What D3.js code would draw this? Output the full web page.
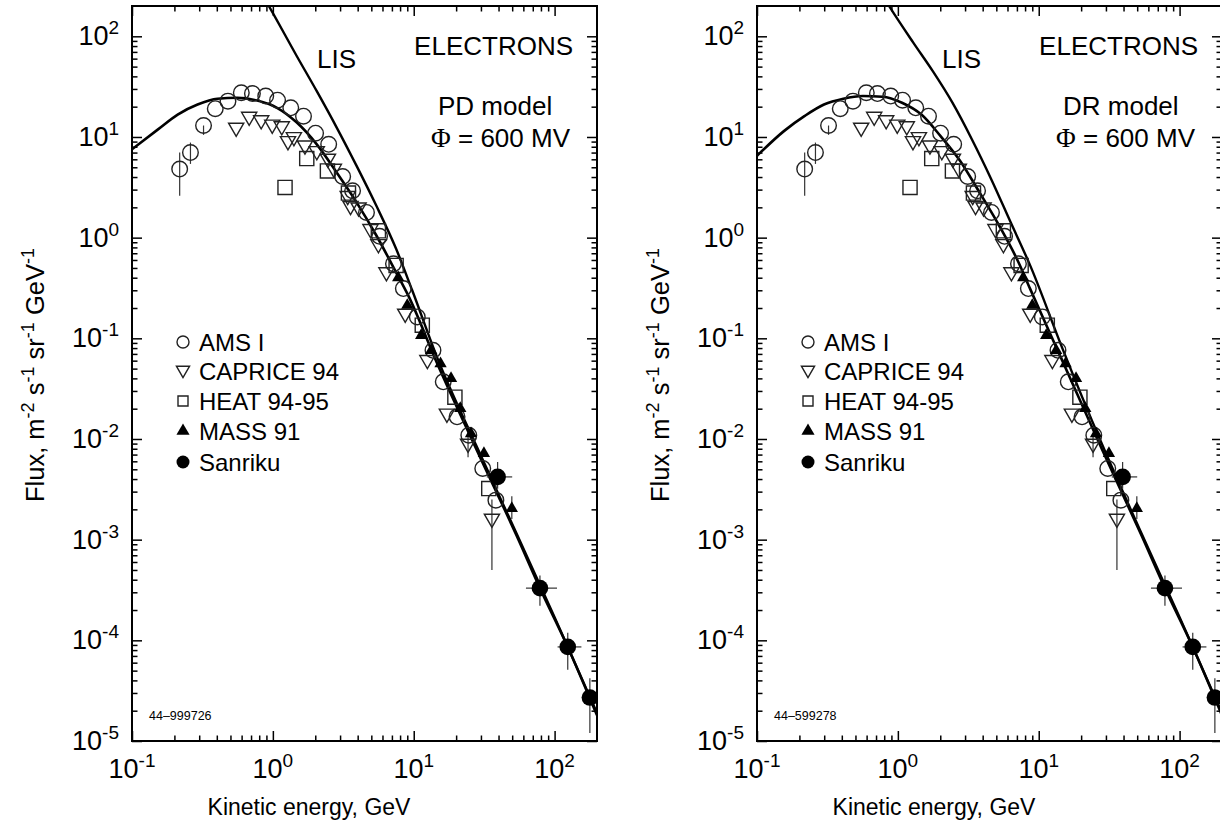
<!DOCTYPE html>
<html><head><meta charset="utf-8">
<script src="https://cdn.jsdelivr.net/npm/d3@7"></script>
<style>
html,body{margin:0;padding:0;background:#fff;}
svg{display:block;}
text{font-family:"Liberation Sans",Arial,Helvetica,sans-serif;fill:#000;}
</style></head><body>
<svg id="chart" width="1220" height="825"></svg>
<script>
// ---------- data (GeV, m^-2 s^-1 sr^-1 GeV^-1) ----------
const xDomain = [0.1, 200];
const yDomain = [1e-5, 200];
const xMajorTicks = [0.1, 1, 10, 100];
const xTickExp = ["-1", "0", "1", "2"];
const yMajorTicks = [1e-5, 1e-4, 1e-3, 1e-2, 1e-1, 1, 10, 100];
const yTickExp = ["-5", "-4", "-3", "-2", "-1", "0", "1", "2"];

const amsE  = [0.218, 0.26, 0.322, 0.39, 0.48, 0.597, 0.716, 0.89, 1.08, 1.34, 1.65, 2.01, 2.49, 3.13, 3.68, 4.62, 5.72, 7.18, 8.44, 10.6, 13.7, 16.2, 20.3, 24.6, 30.9, 38.3];
const amsF  = [4.8, 7.0, 13, 19.1, 22.7, 27.5, 27, 25.5, 23.2, 19.5, 16.1, 10.9, 8.45, 4.05, 2.92, 1.78, 1.03, 0.55, 0.312, 0.163, 0.076, 0.037, 0.0166, 0.0109, 0.0051, 0.00247];
const amsLo = [2.6, 5.4, 10.5, 19.1, 22.7, 27.5, 27, 25.5, 23.2, 19.5, 16.1, 10.9, 8.45, 4.05, 2.92, 1.78, 1.03, 0.55, 0.312, 0.163, 0.076, 0.037, 0.0166, 0.0109, 0.0051, 0.00247];
const amsHi = [7.0, 8.8, 13, 19.1, 22.7, 27.5, 27, 25.5, 23.2, 19.5, 16.1, 10.9, 8.45, 4.05, 2.92, 1.78, 1.03, 0.55, 0.312, 0.163, 0.076, 0.037, 0.0166, 0.0109, 0.0051, 0.00247];

const capE  = [0.549, 0.679, 0.826, 0.99, 1.157, 1.28, 1.41, 1.69, 2.05, 2.46, 2.71, 3.4, 3.56, 4.06, 4.93, 5.61, 6.4, 8.7, 12.5, 17.2, 24.3, 35.9];
const capF  = [12.4, 15.9, 14.7, 13.3, 12.8, 9.12, 10, 8.26, 7.26, 6.1, 4.85, 2.6, 2.07, 2.0, 1.22, 0.865, 0.454, 0.176, 0.061, 0.0179, 0.009, 0.00162];
const capLo = [12.4, 15.9, 14.7, 13.3, 12.8, 9.12, 10, 8.26, 7.26, 6.1, 4.85, 2.6, 2.07, 2.0, 1.22, 0.865, 0.454, 0.176, 0.061, 0.0179, 0.0066, 0.0005];
const capHi = [12.4, 15.9, 14.7, 13.3, 12.8, 9.12, 10, 8.26, 7.26, 6.1, 4.85, 2.6, 2.07, 2.0, 1.22, 0.865, 0.454, 0.176, 0.061, 0.0179, 0.0105, 0.0025];

const heatE = [1.22, 1.74, 2.44, 3.44, 5.61, 7.5, 11.5, 19.6, 34.1];
const heatF = [3.15, 6.1, 4.6, 2.77, 1.17, 0.53, 0.135, 0.026, 0.00322];

const massE  = [7.76, 9.0, 11.3, 13.3, 15.5, 18.4, 21.4, 25.5, 31.5, 49.7];
const massF  = [0.40, 0.213, 0.107, 0.076, 0.056, 0.04, 0.0201, 0.0113, 0.0072, 0.00204];
const massLo = [0.40, 0.213, 0.107, 0.076, 0.056, 0.04, 0.0201, 0.0113, 0.0072, 0.0016];
const massHi = [0.40, 0.213, 0.107, 0.076, 0.056, 0.04, 0.0201, 0.0113, 0.0072, 0.0027];

const sanE   = [39.4, 78.7, 124, 178];
const sanF   = [4.2e-3, 3.3e-4, 8.6e-5, 2.7e-5];
const sanELo = [33, 62.6, 105, 158];
const sanEHi = [50, 104, 155, 215];
const sanLo  = [3.2e-3, 2.2e-4, 5.1e-5, 1.2e-5];
const sanHi  = [5.9e-3, 4.4e-4, 1.19e-4, 4.2e-5];

// model curves
const pdModE = [0.1, 0.153, 0.211, 0.292, 0.404, 0.56, 0.774, 1.07, 1.48, 2.05, 2.84, 3.93, 5.43, 7.51, 9.1, 14.7, 28, 53.7, 78.7, 124, 200];
const pdModF = [7.55, 11.9, 16.7, 21, 24, 24.5, 23, 19.5, 13.9, 8.45, 4.43, 2.24, 1.05, 0.45, 0.27, 0.056, 7.8e-3, 1.1e-3, 3.3e-4, 8.6e-5, 1.8e-5];
const pdLisE = [0.9, 0.94, 1.48, 2.05, 2.84, 3.93, 5.43, 7.51, 9.75, 14.7, 28, 53.7, 100, 200];
const pdLisF = [220, 198, 63.4, 28.5, 12.4, 5.16, 2.07, 0.77, 0.30, 0.064, 8.4e-3, 1.15e-3, 1.7e-4, 1.9e-5];

const drModE = [0.1, 0.156, 0.217, 0.299, 0.41, 0.564, 0.776, 1.07, 1.47, 2.01, 2.77, 3.8, 5.23, 7.18, 8.69, 14.7, 28, 53.7, 78.7, 124, 200];
const drModF = [6.5, 11.5, 16.1, 21, 24, 25.5, 25.1, 21.9, 16.7, 10.2, 5.78, 2.81, 1.32, 0.57, 0.31, 0.06, 8.0e-3, 1.1e-3, 3.3e-4, 8.6e-5, 1.8e-5];
const drLisE = [0.83, 0.87, 1.29, 1.77, 2.44, 3.35, 4.6, 6.32, 8.69, 14.7, 28, 53.7, 100, 200];
const drLisF = [220, 198, 86, 45, 21.9, 9.5, 3.81, 1.42, 0.53, 0.08, 9.0e-3, 1.15e-3, 1.7e-4, 1.9e-5];

const legendLabels = ["AMS I", "CAPRICE 94", "HEAT 94-95", "MASS 91", "Sanriku"];
const panelModels = ["PD model", "DR model"];
const panelCodes = ["44\u2013999726", "44\u2013599278"];
const yTitleParts = [["Flux, m", "-2"], [" s", "-1"], [" sr", "-1"], [" GeV", "-1"]];

// ---------- layout ----------
const svg = d3.select("#chart");
const plotW = 465, plotTop = 6, plotBottom = 741;
const panelLefts = [132, 757];
const panelCurves = [
  {modE: pdModE, modF: pdModF, lisE: pdLisE, lisF: pdLisF},
  {modE: drModE, modF: drModF, lisE: drLisE, lisF: drLisF}
];

function minorTicks(lo, hi) {
  const out = [];
  for (let e = -6; e <= 3; e++) for (let k = 2; k <= 9; k++) {
    const v = k * Math.pow(10, e);
    if (v > lo * 1.0001 && v < hi * 0.9999) out.push(v);
  }
  return out;
}
const xMinor = minorTicks(xDomain[0], xDomain[1]);
const yMinor = minorTicks(yDomain[0], yDomain[1]);

const zip = (a, b) => a.map((v, i) => [v, b[i]]);

panelLefts.forEach((left, pi) => {
  const x = d3.scaleLog().domain(xDomain).range([left, left + plotW]);
  const y = d3.scaleLog().domain(yDomain).range([plotBottom, plotTop]);
  const g = svg.append("g");
  const clipId = "clip" + pi;
  g.append("clipPath").attr("id", clipId).append("rect")
    .attr("x", left).attr("y", plotTop).attr("width", plotW).attr("height", plotBottom - plotTop);

  // axes (inward ticks on four sides)
  const tickStyle = sel => {
    sel.select(".domain").remove();
    sel.selectAll("line").attr("stroke", "#000").attr("stroke-width", 1.5);
    sel.selectAll("text").remove();
  };
  const axes = [
    [d3.axisBottom, x, `translate(0,${plotBottom})`],
    [d3.axisTop, x, `translate(0,${plotTop})`],
    [d3.axisLeft, y, `translate(${left},0)`],
    [d3.axisRight, y, `translate(${left + plotW},0)`]
  ];
  axes.forEach(([ax, sc, tr]) => {
    const isX = sc === x;
    g.append("g").attr("transform", tr)
      .call(ax(sc).tickValues(isX ? xMinor : yMinor).tickSize(-5.5).tickFormat(""))
      .call(tickStyle);
    g.append("g").attr("transform", tr)
      .call(ax(sc).tickValues(isX ? xMajorTicks : yMajorTicks).tickSize(-10).tickFormat(""))
      .call(tickStyle);
  });

  // frame
  g.append("rect").attr("x", left).attr("y", plotTop).attr("width", plotW).attr("height", plotBottom - plotTop)
    .attr("fill", "none").attr("stroke", "#000").attr("stroke-width", 2);

  // tick labels
  xMajorTicks.forEach((v, i) => {
    const t = g.append("text").attr("x", x(v)).attr("y", 778).attr("text-anchor", "middle").attr("font-size", 27);
    t.append("tspan").text("10");
    t.append("tspan").attr("font-size", 19).attr("dy", -11).text(xTickExp[i]);
  });
  yMajorTicks.forEach((v, i) => {
    const t = g.append("text").attr("x", left - 13).attr("y", y(v) + 9).attr("text-anchor", "end").attr("font-size", 27);
    t.append("tspan").text("10");
    t.append("tspan").attr("font-size", 19).attr("dy", -11).text(yTickExp[i]);
  });

  // axis titles
  g.append("text").attr("x", left + 177).attr("y", 815).attr("text-anchor", "middle").attr("font-size", 23)
    .text("Kinetic energy, GeV");
  const yt = g.append("text").attr("transform", `translate(${left - 88},375) rotate(-90)`)
    .attr("text-anchor", "middle").attr("font-size", 25.5);
  yTitleParts.forEach(([b, s], k) => {
    yt.append("tspan").attr("dy", k === 0 ? 0 : 10).text(b);
    yt.append("tspan").attr("font-size", 18).attr("dy", -10).text(s);
  });

  // curves
  const line = d3.line().x(d => x(d[0])).y(d => y(d[1])).curve(d3.curveMonotoneX);
  const c = panelCurves[pi];
  const cg = g.append("g").attr("clip-path", `url(#${clipId})`);
  cg.append("path").attr("d", line(zip(c.lisE, c.lisF))).attr("fill", "none").attr("stroke", "#000").attr("stroke-width", 2.4);
  cg.append("path").attr("d", line(zip(c.modE, c.modF))).attr("fill", "none").attr("stroke", "#000").attr("stroke-width", 2.6);

  // data
  const dg = g.append("g").attr("clip-path", `url(#${clipId})`);
  const eb = (E, lo, hi) => E.forEach((e, i) => {
    if (lo[i] !== hi[i]) dg.append("line").attr("x1", x(e)).attr("x2", x(e)).attr("y1", y(lo[i])).attr("y2", y(hi[i]))
      .attr("stroke", "#333").attr("stroke-width", 1.2);
  });
  eb(amsE, amsLo, amsHi);
  eb(capE, capLo, capHi);
  eb(massE, massLo, massHi);
  eb(sanE, sanLo, sanHi);
  sanE.forEach((e, i) => {
    dg.append("line").attr("x1", x(sanELo[i])).attr("x2", x(sanEHi[i])).attr("y1", y(sanF[i])).attr("y2", y(sanF[i]))
      .attr("stroke", "#333").attr("stroke-width", 1.2);
  });

  const triDown = d3.symbol(d3.symbolTriangle, 100)();
  const triUp = d3.symbol(d3.symbolTriangle, 66)();
  const sq = d3.symbol(d3.symbolSquare, 200)();
  const openStyle = s => s.attr("fill", "none").attr("stroke", "#222").attr("stroke-width", 1.4);

  heatE.forEach((e, i) => openStyle(dg.append("path").attr("d", sq).attr("transform", `translate(${x(e)},${y(heatF[i])})`)));
  capE.forEach((e, i) => openStyle(dg.append("path").attr("d", triDown).attr("transform", `translate(${x(e)},${y(capF[i])}) rotate(180)`)));
  amsE.forEach((e, i) => openStyle(dg.append("circle").attr("cx", x(e)).attr("cy", y(amsF[i])).attr("r", 7.8)));
  massE.forEach((e, i) => dg.append("path").attr("d", triUp).attr("transform", `translate(${x(e)},${y(massF[i])})`).attr("fill", "#000"));
  sanE.forEach((e, i) => dg.append("circle").attr("cx", x(e)).attr("cy", y(sanF[i])).attr("r", 8.3).attr("fill", "#000"));

  // legend
  const legY = [342, 371, 401, 431, 462];
  const lx = left + 51;
  legendLabels.forEach((lab, i) => {
    const cy = legY[i];
    if (i === 0) openStyle(g.append("circle").attr("cx", lx).attr("cy", cy).attr("r", 6));
    if (i === 1) openStyle(g.append("path").attr("d", d3.symbol(d3.symbolTriangle, 75)()).attr("transform", `translate(${lx},${cy - 1}) rotate(180)`));
    if (i === 2) openStyle(g.append("path").attr("d", d3.symbol(d3.symbolSquare, 100)()).attr("transform", `translate(${lx},${cy})`));
    if (i === 3) g.append("path").attr("d", d3.symbol(d3.symbolTriangle, 75)()).attr("transform", `translate(${lx},${cy})`).attr("fill", "#000");
    if (i === 4) g.append("circle").attr("cx", lx).attr("cy", cy).attr("r", 6.5).attr("fill", "#000");
    g.append("text").attr("x", left + 67).attr("y", cy + 8.5).attr("font-size", 24).text(lab);
  });

  // annotations
  g.append("text").attr("x", left + 185).attr("y", 68).attr("font-size", 26).text("LIS");
  g.append("text").attr("x", left + 441).attr("y", 55).attr("text-anchor", "end").attr("font-size", 26).text("ELECTRONS");
  g.append("text").attr("x", left + 306).attr("y", 115).attr("font-size", 26).text(panelModels[pi]);
  const phi = g.append("text").attr("x", left + 299).attr("y", 147).attr("font-size", 26);
  phi.append("tspan").attr("font-family", "'Liberation Serif','DejaVu Serif',serif").attr("font-size", 27).text("\u03A6");
  phi.append("tspan").text(" = 600 MV");
  g.append("text").attr("x", left + 17).attr("y", 720).attr("font-size", 12.5).text(panelCodes[pi]);
});
</script>
</body></html>
